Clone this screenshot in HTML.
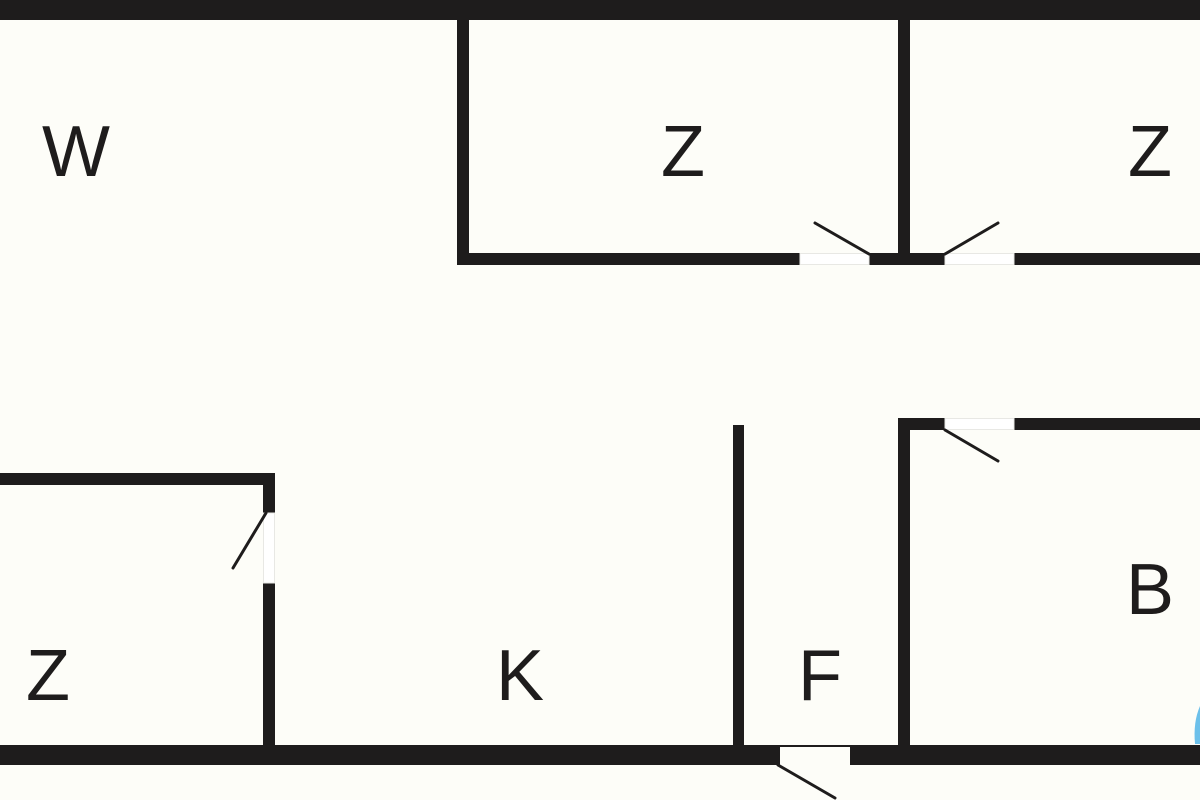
<!DOCTYPE html>
<html><head><meta charset="utf-8"><style>
html,body{margin:0;padding:0;background:#fdfdf8;}
svg{display:block}
text{font-family:"Liberation Sans",sans-serif;font-size:72px;fill:#1e1c1c;text-anchor:middle}
</style></head><body>
<svg width="1200" height="800" viewBox="0 0 1200 800">
<rect width="1200" height="800" fill="#fdfdf8"/>
<g fill="#1e1c1c">
<rect x="0" y="0" width="1200" height="20"/>
<rect x="457" y="20" width="12" height="245"/>
<rect x="457" y="253" width="343" height="12"/>
<rect x="869" y="253" width="76" height="12"/>
<rect x="1014" y="253" width="186" height="12"/>
<rect x="898" y="20" width="12" height="240"/>
<rect x="898" y="418" width="47" height="12"/>
<rect x="1014" y="418" width="186" height="12"/>
<rect x="898" y="418" width="12" height="330"/>
<rect x="733" y="425" width="11" height="322"/>
<rect x="0" y="745" width="780" height="20"/>
<rect x="780" y="745" width="70" height="2"/>
<rect x="850" y="745" width="350" height="20"/>
<rect x="0" y="473" width="275" height="12"/>
<rect x="263" y="473" width="12" height="40"/>
<rect x="263" y="583" width="12" height="164"/>
</g>
<g fill="#ffffff" stroke="#e8e8e4" stroke-width="1">
<rect x="800" y="253.5" width="69" height="11"/>
<rect x="945" y="253.5" width="69" height="11"/>
<rect x="945" y="418.5" width="69" height="11"/>
<rect x="263.5" y="513" width="11" height="70"/>
</g>
<g stroke="#1e1c1c" stroke-width="3" stroke-linecap="round">
<line x1="869" y1="254" x2="815" y2="223"/>
<line x1="945" y1="254" x2="998" y2="223"/>
<line x1="945" y1="430" x2="998" y2="461"/>
<line x1="778" y1="765" x2="835" y2="798"/>
<line x1="266" y1="513" x2="233" y2="568"/>
</g>
<path d="M1200 706 Q1193 722 1195 744 L1200 744 Z" fill="#6cc0ea"/>
<text x="76" y="176">W</text>
<text x="683" y="176">Z</text>
<text x="1150" y="176">Z</text>
<text x="1150" y="614">B</text>
<text x="48" y="700">Z</text>
<text x="520" y="700">K</text>
<text x="820" y="700">F</text>
</svg>
</body></html>
